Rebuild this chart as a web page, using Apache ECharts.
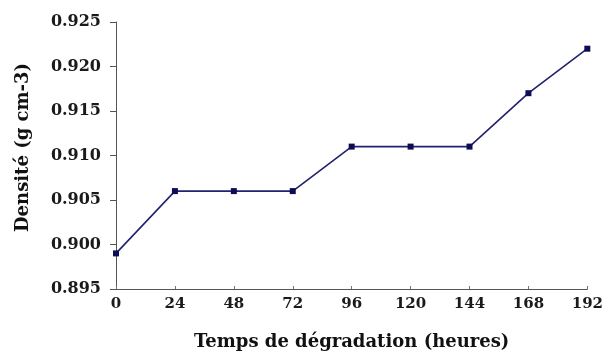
<!DOCTYPE html>
<html><head><meta charset="utf-8">
<script src="https://cdn.jsdelivr.net/npm/echarts@6/dist/echarts.min.js"></script>
<style>html,body{margin:0;padding:0;background:#fff}#c{width:606px;height:356px}</style>
</head><body><div id="c"></div>
<script>
const categories = ['0','24','48','72','96','120','144','168','192'];
const density = [0.899, 0.906, 0.906, 0.906, 0.911, 0.911, 0.911, 0.917, 0.922];
const yTicks = {min: 0.895, max: 0.925, interval: 0.005};

const chart = echarts.init(document.getElementById('c'));
const font = '"DejaVu Serif", "Liberation Serif", serif';
chart.setOption({
  backgroundColor: '#ffffff',
  animation: false,
  grid: {left: 116, right: 16, top: 22, bottom: 66},
  xAxis: {
    type: 'category', data: categories, boundaryGap: false,
    name: 'Temps de dégradation (heures)', nameLocation: 'middle', nameGap: 44,
    nameTextStyle: {fontFamily: font, fontWeight: 'bold', fontSize: 18, color: '#111'},
    axisLine: {lineStyle: {color: '#555', width: 1}},
    axisTick: {inside: true, length: 3, lineStyle: {color: '#777'}},
    axisLabel: {fontFamily: font, fontWeight: 'bold', fontSize: 15, color: '#1a1a1a', margin: 8}
  },
  yAxis: {
    type: 'value', min: yTicks.min, max: yTicks.max, interval: yTicks.interval,
    name: 'Densité (g cm-3)', nameLocation: 'middle', nameGap: 84,
    nameTextStyle: {fontFamily: font, fontWeight: 'bold', fontSize: 18, color: '#111', padding: [0, 0, 0, 16]},
    axisLine: {show: true, lineStyle: {color: '#555', width: 1}},
    axisTick: {show: true, length: 6, lineStyle: {color: '#555'}},
    splitLine: {show: false},
    axisLabel: {fontFamily: font, fontWeight: 'bold', fontSize: 16, color: '#1a1a1a', margin: 15,
      formatter: v => v.toFixed(3)}
  },
  series: [{
    type: 'line', data: density,
    symbol: 'rect', symbolSize: 6,
    lineStyle: {color: '#22226e', width: 1.6},
    itemStyle: {color: '#0d0d55'}
  }]
});
</script></body></html>
